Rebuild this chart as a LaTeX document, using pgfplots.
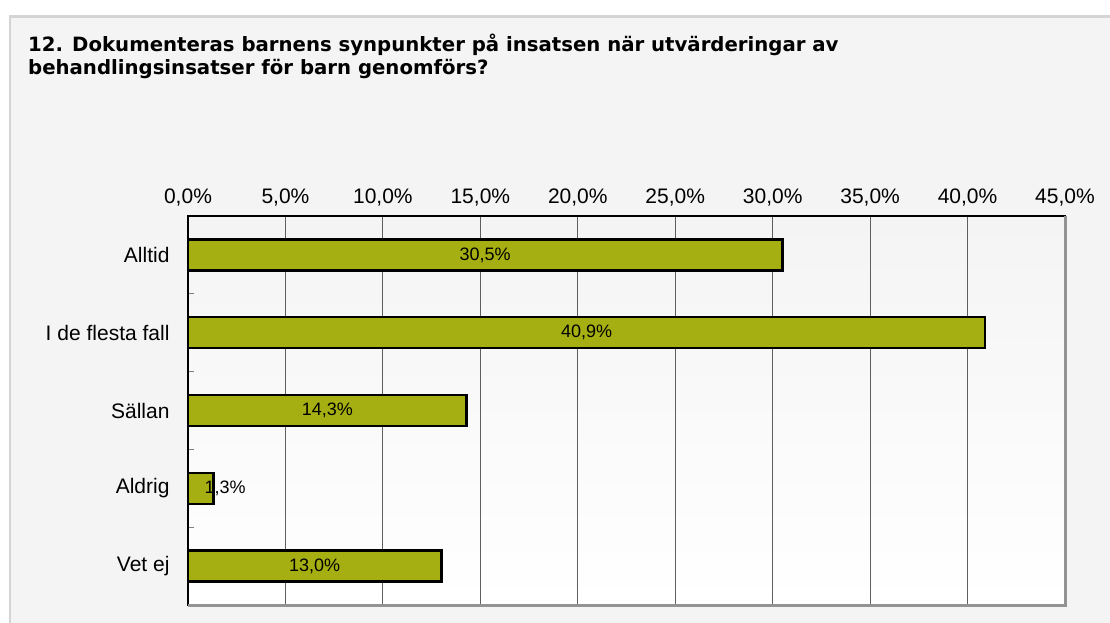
\documentclass[border=0pt]{standalone}
\usepackage{pgfplots}
\pgfplotsset{compat=1.18}
\usepackage{fontspec}
\setmainfont{Liberation Sans}
\newfontfamily\titlefont{DejaVu Sans}
\definecolor{barcol}{HTML}{A6AF11}
\definecolor{panel}{HTML}{F4F4F4}
\definecolor{panelborder}{HTML}{D4D4D4}
\definecolor{gridc}{HTML}{5F5F5F}
\begin{document}
\begin{tikzpicture}[x=1pt,y=1pt]
\path[use as bounding box] (0,0) rectangle (1110,623);
\fill[white] (0,0) rectangle (1110,623);
\filldraw[fill=panel, draw=panelborder, line width=2.5pt] (10,-10) rectangle (1125,606.5);
\node[anchor=base west, inner sep=0, font=\titlefont\bfseries\fontsize{19.7}{23}\selectfont] at (28,571) {12. Dokumenteras barnens synpunkter på insatsen när utvärderingar av};
\node[anchor=base west, inner sep=0, font=\titlefont\bfseries\fontsize{19.7}{23}\selectfont] at (28,548) {behandlingsinsatser för barn genomförs?};
\begin{axis}[
  at={(188pt,18pt)}, anchor=south west, scale only axis,
  width=877pt, height=389pt,
  xmin=0, xmax=45, ymin=-0.5, ymax=4.5, y dir=reverse,
  xtick={0,5,...,45}, xticklabel pos=right, xtick pos=right,
  xticklabel={\pgfmathprintnumber[fixed,fixed zerofill,precision=1,use comma,assume math mode=true]{\tick}\%},
  xticklabel style={yshift=6pt},
  xmajorgrids, major grid style={gridc, line width=0.9pt},
  major x tick style={draw=none},
  ytick={0,1,2,3,4},
  yticklabels={Alltid, I de flesta fall, Sällan, Aldrig, Vet ej},
  ytick pos=left,
  major y tick style={draw=none},
  minor ytick={0.5,1.5,2.5,3.5}, minor tick length=6pt, tick align=inside,
  minor y tick style={gray, line width=0.9pt},
  yticklabel style={xshift=-15pt},
  tick label style={font=\fontsize{21}{25}\selectfont},
  axis line style={black, line width=1.3pt},
  axis background/.style={top color=panel, bottom color=white},
  clip=false,
]
\addplot[xbar, bar width=31pt, fill=barcol, draw=black, line width=2.4pt]
  coordinates {(30.5,0) (40.9,1) (14.3,2) (1.3,3) (13.0,4)};
\addplot[draw=none, mark=none, point meta=explicit,
  nodes near coords={\pgfmathprintnumber[fixed,fixed zerofill,precision=1,use comma,assume math mode=true]{\pgfplotspointmeta}\%},
  nodes near coords style={anchor=center, font=\fontsize{18}{21}\selectfont, text=black}]
  coordinates {(15.25,0)[30.5] (20.45,1)[40.9] (7.15,2)[14.3] (1.9,3)[1.3] (6.5,4)[13.0]};
\draw[color=gray!85, line width=3pt] (axis description cs:1,1) -- (axis description cs:1,0) -- (axis description cs:0,0);
\end{axis}
\end{tikzpicture}
\end{document}
